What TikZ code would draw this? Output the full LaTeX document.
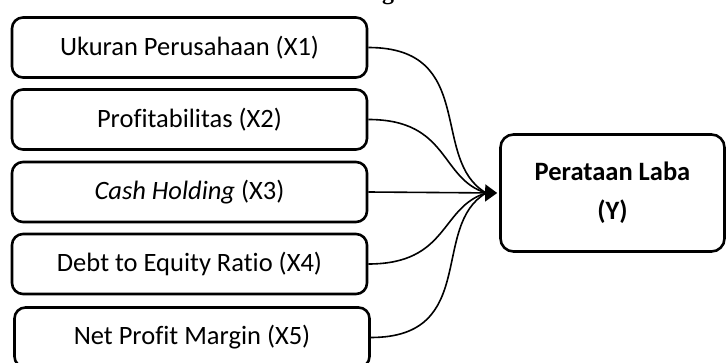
\documentclass[tikz,border=0pt]{standalone}
\usepackage{fontspec}
\setmainfont{Carlito}[Ligatures=CommonOff]
\newfontfamily\titlefont{Liberation Serif}
\usetikzlibrary{arrows.meta}
\begin{document}
\begin{tikzpicture}[x=1pt, y=-1pt,
        varbox/.style = {draw, line width=2.6pt, rounded corners=11pt, minimum width=355pt, minimum height=60pt, font=\fontsize{26.5}{30}\selectfont},
        ybox/.style = {draw, line width=2.6pt, rounded corners=13pt, minimum width=224pt, minimum height=117pt, align=center, font=\bfseries\fontsize{26.5}{39}\selectfont},
        link/.style = {line width=1.6pt, out looseness=1.5, in looseness=0.9}]
        \useasboundingbox (0,0) rectangle (727,363);
        \node[anchor=base, font=\titlefont\bfseries\fontsize{24}{28}\selectfont] (ttl) at (388,0) {g};
        \node[varbox] (x1) at (189.5,47.5) {Ukuran Perusahaan (X1)};
        \node[varbox] (x2) at (189.5,119.5) {Profitabilitas (X2)};
        \node[varbox] (x3) at (189.5,192) {\textit{Cash Holding} (X3)};
        \node[varbox] (x4) at (189.5,264) {Debt to Equity Ratio (X4)};
        \node[varbox] (x5) at (192,337.5) {Net Profit Margin (X5)};
        \node[ybox] (y) at (612.5,193) {Perataan Laba\\(Y)};
        \coordinate (hub) at ([xshift=-13pt]y.west);
        \draw[link] (x1.east) to[out=0, in=150] (hub);
        \draw[link] (x2.east) to[out=0, in=163] (hub);
        \draw[link, -{Triangle[length=12pt, width=17pt]}] (x3.east) -- ([xshift=-2pt]y.west);
        \draw[link] (x4.east) to[out=0, in=197] (hub);
        \draw[link] (x5.east) to[out=0, in=210] (hub);
    \end{tikzpicture}
\end{document}
